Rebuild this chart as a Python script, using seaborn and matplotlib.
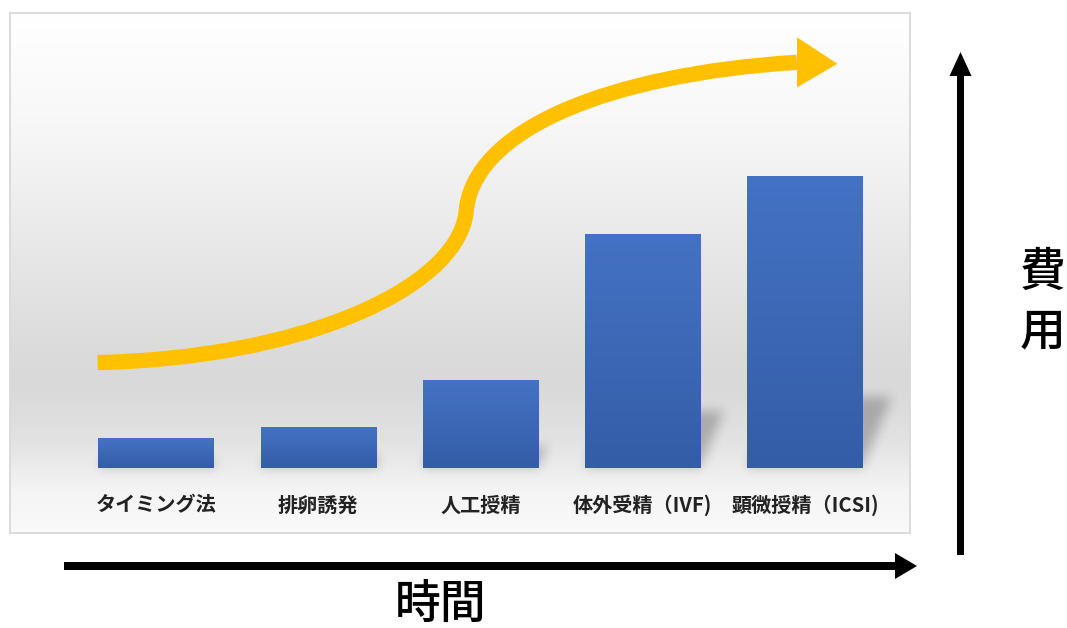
import numpy as np
import matplotlib
matplotlib.use("Agg")
import matplotlib.pyplot as plt
from matplotlib.patches import FancyArrow, Polygon, PathPatch
from matplotlib.path import Path
import seaborn as sns

# ---- data -------------------------------------------------------------
categories = ["タイミング法", "排卵誘発", "人工授精", "体外受精（IVF)", "顕微授精（ICSI)"]
cost_index = [10, 14, 30, 80, 100]          # relative cost of each treatment

# trend arrow (x in category positions, y in cost units): two cubic Bezier segments
trend_x = [-0.36, 0.89, 1.84, 1.91, 1.94, 2.80, 3.95]
trend_y = [36.0, 37.5, 61.0, 87.0, 116.0, 135.0, 139.0]
trend_tip = (4.20, 138.5)

x_axis_label = "時間"
y_axis_label = "費用"

# ---- style ------------------------------------------------------------
sns.set_theme(style="white")
plt.rcParams["font.family"] = ["Noto Sans CJK JP", "DejaVu Sans"]

W_PX, H_PX, DPI = 1067, 628, 100
fig = plt.figure(figsize=(W_PX / DPI, H_PX / DPI), dpi=DPI)
fig.patch.set_facecolor("white")

# chart panel
panel_l, panel_r, panel_t, panel_b = 10, 910, 13, 533
ax = fig.add_axes([panel_l / W_PX, (H_PX - panel_b) / H_PX,
                   (panel_r - panel_l) / W_PX, (panel_b - panel_t) / H_PX])

XLIM = (-0.90, 4.647)
YLIM = (-22.47, 155.92)
BAR_W = 0.71

sns.barplot(x=categories, y=cost_index, ax=ax, color="#4472C4",
            width=BAR_W, errorbar=None, saturation=1, zorder=3)

# soft grey background gradient of the panel
stops_f = [0.0, 0.2, 0.45, 0.65, 0.72, 0.82, 0.92, 1.0]
stops_v = [255, 248, 232, 219, 217, 226, 244, 250]
rows = np.linspace(0, 1, 520)
g = np.interp(rows, stops_f, stops_v) / 255.0
bg = np.repeat(g[:, None], 2, axis=1)
ax.imshow(np.dstack([bg, bg, bg]), extent=(XLIM[0], XLIM[1], YLIM[0], YLIM[1]),
          origin="upper", aspect="auto", zorder=0, interpolation="bilinear")

# perspective shadows behind the bars, rasterised then blurred
gw, gh = 900, 520
gx = np.linspace(XLIM[0], XLIM[1], gw)
gy = np.linspace(YLIM[1], YLIM[0], gh)
GX, GY = np.meshgrid(gx, gy)
mask = np.zeros((gh, gw))
px_per_x = gw / (XLIM[1] - XLIM[0])
px_per_y = gh / (YLIM[1] - YLIM[0])
for i, h in enumerate(cost_index):
    hs = 0.24 * h
    shear = 0.42 * hs * px_per_y / px_per_x
    t = np.clip(GY / hs, 0, 1)
    left = i - BAR_W / 2 + t * shear
    right = i + BAR_W / 2 + t * shear
    inside = (GY >= 0) & (GY <= hs) & (GX >= left) & (GX <= right)
    mask = np.maximum(mask, inside.astype(float))


def box_blur(a, r, axis):
    pad = [(0, 0), (0, 0)]
    pad[axis] = (r, r)
    p = np.pad(a, pad, mode="edge")
    c = np.cumsum(p, axis=axis)
    c = np.concatenate([np.zeros_like(np.take(c, [0], axis=axis)), c], axis=axis)
    n = a.shape[axis]
    hi = np.take(c, np.arange(2 * r + 1, 2 * r + 1 + n), axis=axis)
    lo = np.take(c, np.arange(0, n), axis=axis)
    return (hi - lo) / (2 * r + 1)


for _ in range(3):
    mask = box_blur(mask, 5, 0)
    mask = box_blur(mask, 5, 1)
shadow = np.zeros((gh, gw, 4))
shadow[..., 3] = 0.24 * mask
ax.imshow(shadow, extent=(XLIM[0], XLIM[1], YLIM[0], YLIM[1]),
          origin="upper", aspect="auto", zorder=1, interpolation="bilinear")

# vertical colour gradient inside each bar
top_c = np.array([68, 114, 196]) / 255
bot_c = np.array([52, 93, 167]) / 255
grad = np.linspace(0, 1, 256)[:, None]
bar_img = top_c[None, None, :] * (1 - grad[..., None]) + bot_c[None, None, :] * grad[..., None]
bar_img = np.repeat(bar_img, 2, axis=1)
for patch in ax.patches:
    x0, y0 = patch.get_x(), patch.get_y()
    w, h = patch.get_width(), patch.get_height()
    patch.set_edgecolor("none")
    im = ax.imshow(bar_img, extent=(x0, x0 + w, y0, y0 + h), origin="upper",
                   aspect="auto", zorder=4, interpolation="bilinear")
    im.set_clip_path(patch)

# category labels inside the panel
for i, lab in enumerate(categories):
    ax.text(i, -12.9, lab, ha="center", va="center", fontsize=14.5,
            fontweight="bold", color="#222222", zorder=5)

# rising trend arrow
verts = [(trend_x[k], trend_y[k]) for k in range(7)]
codes = [Path.MOVETO, Path.CURVE4, Path.CURVE4, Path.CURVE4,
         Path.CURVE4, Path.CURVE4, Path.CURVE4]
ax.add_patch(PathPatch(Path(verts, codes), facecolor="none", edgecolor="#FFC000",
                       lw=11, capstyle="butt", joinstyle="round", zorder=6))
half = 8.6
ax.add_patch(Polygon([(trend_x[-1], trend_y[-1] + half), trend_tip,
                      (trend_x[-1], trend_y[-1] - half)],
                     closed=True, facecolor="#FFC000", edgecolor="none", zorder=6))

ax.set_xlim(*XLIM)
ax.set_ylim(*YLIM)
ax.set_xticks([])
ax.set_yticks([])
ax.set_xlabel("")
ax.set_ylabel("")
for s in ax.spines.values():
    s.set_visible(True)
    s.set_color("#D9D9D9")
    s.set_linewidth(1.3)

# outer axes arrows and their titles (figure pixel space)
ov = fig.add_axes([0, 0, 1, 1], zorder=-1)
ov.set_xlim(0, W_PX)
ov.set_ylim(H_PX, 0)
ov.axis("off")
ov.add_patch(FancyArrow(64, 566, 853, 0, width=8, head_width=26, head_length=22,
                        length_includes_head=True, color="black", lw=0))
ov.add_patch(FancyArrow(960.5, 555, 0, -503, width=7, head_width=22, head_length=24,
                        length_includes_head=True, color="black", lw=0))
ov.text(441, 604, x_axis_label, ha="center", va="center", fontsize=33,
        fontweight="medium", color="black")
ov.text(1043, 272, y_axis_label[0], ha="center", va="center", fontsize=33,
        fontweight="medium", color="black")
ov.text(1043, 332, y_axis_label[1], ha="center", va="center", fontsize=33,
        fontweight="medium", color="black")

fig.savefig("out.png", dpi=DPI)
